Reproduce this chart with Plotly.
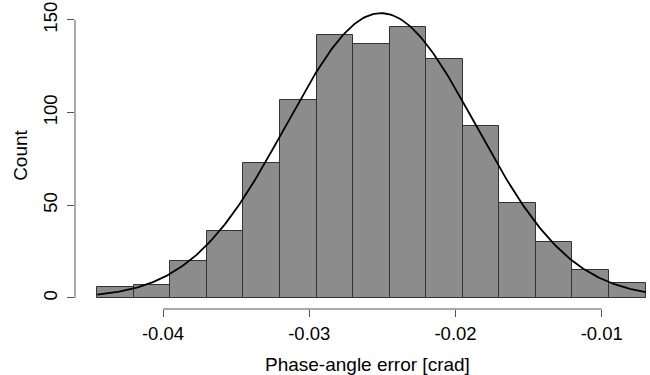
import numpy as np
import plotly.graph_objects as go

# Histogram bins (breaks) and counts
bin_edges = [-0.0445, -0.042, -0.0395, -0.037, -0.0345, -0.032, -0.0295, -0.027,
             -0.0245, -0.022, -0.0195, -0.017, -0.0145, -0.012, -0.0095, -0.007]
counts = [6, 7, 20, 36, 73, 107, 142, 137, 146, 129, 93, 51, 30, 15, 8]

# Fitted normal curve parameters (scaled to counts)
curve_mean = -0.0251
curve_sd = 0.00649
n_total = sum(counts)

x_ticks = [-0.04, -0.03, -0.02, -0.01]
x_tick_labels = ["-0.04", "-0.03", "-0.02", "-0.01"]
y_ticks = [0, 50, 100, 150]
y_tick_labels = ["0", "50", "100", "150"]
x_title = "Phase-angle error [crad]"
y_title = "Count"

edges = np.array(bin_edges)
centers = (edges[:-1] + edges[1:]) / 2
widths = np.diff(edges)
binw = widths[0]

xc = np.linspace(edges[0], edges[-1], 300)
yc = n_total * binw / (curve_sd * np.sqrt(2 * np.pi)) * np.exp(-0.5 * ((xc - curve_mean) / curve_sd) ** 2)

fig = go.Figure()
fig.add_trace(go.Bar(x=centers, y=counts, width=widths,
                     marker=dict(color="#8c8c8c", line=dict(color="#333333", width=1)),
                     hoverinfo="skip"))
fig.add_trace(go.Scatter(x=xc, y=yc, mode="lines",
                         line=dict(color="black", width=1.8), hoverinfo="skip"))

axis_col = "#555555"
fig.add_shape(type="line", xref="paper", yref="y", x0=0, x1=0, y0=y_ticks[0], y1=y_ticks[-1],
              line=dict(color=axis_col, width=1))
fig.add_shape(type="line", xref="x", yref="paper", x0=x_ticks[0], x1=x_ticks[-1], y0=0, y1=0,
              line=dict(color=axis_col, width=1))

fam = "Liberation Sans, Arial, sans-serif"
tick_font = dict(family=fam, size=18.5, color="black")
title_font = dict(family=fam, size=19, color="black")

fig.add_annotation(text=x_title, xref="paper", yref="paper", x=0.5087, y=-0.181,
                   xanchor="center", yanchor="middle", showarrow=False, font=title_font)

fig.update_layout(
    width=650, height=375,
    margin=dict(l=75, r=0, t=2, b=66),
    plot_bgcolor="white", paper_bgcolor="white",
    showlegend=False, bargap=0,
    font=dict(family=fam, size=18, color="black"),
    xaxis=dict(range=[-0.04602, -0.0067], showgrid=False, zeroline=False, showline=False,
               tickmode="array", tickvals=x_ticks, ticktext=x_tick_labels, tickfont=tick_font,
               ticks="outside", ticklen=7, tickcolor=axis_col, tickwidth=1,
               ticklabelstandoff=1),
    yaxis=dict(range=[-5.94, 159.7], showgrid=False, zeroline=False, showline=False,
               tickmode="array", tickvals=y_ticks, ticktext=y_tick_labels, tickangle=-90,
               tickfont=tick_font,
               ticks="outside", ticklen=7, tickcolor=axis_col, tickwidth=1,
               ticklabelstandoff=3,
               title=dict(text=y_title, font=title_font, standoff=6)),
)

fig.write_html("out.html")
